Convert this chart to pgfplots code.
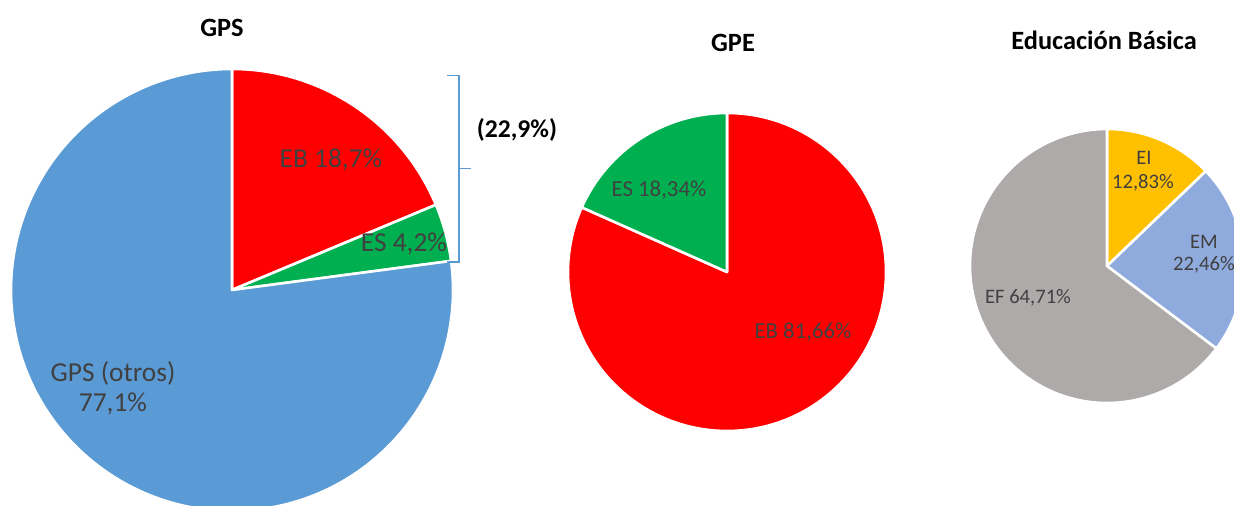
\documentclass[border=0pt]{standalone}
\usepackage{pgfplots}
\pgfplotsset{compat=1.18}
\usepackage{fontspec}
\setmainfont{Carlito}
\definecolor{cBlue}{HTML}{5B9BD5}
\definecolor{cRed}{HTML}{FF0000}
\definecolor{cGreen}{HTML}{00B050}
\definecolor{cYellow}{HTML}{FFC000}
\definecolor{cLBlue}{HTML}{8FAADC}
\definecolor{cGray}{HTML}{AEAAAA}
\definecolor{cText}{HTML}{404040}
% #1 cx, #2 cy, #3 r (axis units), #4 start angle, #5 percent, #6 colour
\newcommand{\pieslice}[6]{%
  \pgfplotsextra{%
    \pgfmathsetmacro{\aS}{#4}%
    \pgfmathsetmacro{\aE}{#4-3.6*#5}%
    \pgfmathsetmacro{\xS}{#1+#3*cos(\aS)}%
    \pgfmathsetmacro{\yS}{#2+#3*sin(\aS)}%
    \pgfmathsetmacro{\rr}{#3*0.5}%
    \filldraw[fill=#6, draw=white, line width=1.3pt, line join=round]
      (axis cs:#1,#2) -- (axis cs:\xS,\yS)
      arc[start angle=\aS, end angle=\aE, radius=\rr pt] -- cycle;
  }%
}
\begin{document}
\begin{tikzpicture}
\begin{axis}[
  scale only axis, width=617pt, height=253pt,
  xmin=0, xmax=1234, ymin=0, ymax=506,
  hide axis, clip=true,
]
% GPS: EB 18.7, ES 4.2, otros 77.1
\pieslice{232}{216}{221}{90}{18.7}{cRed}
\pieslice{232}{216}{221}{90-3.6*18.7}{4.2}{cGreen}
\pieslice{232}{216}{221}{90-3.6*22.9}{77.1}{cBlue}
% GPE: EB 81.66, ES 18.34
\pieslice{727}{234}{159}{90}{81.66}{cRed}
\pieslice{727}{234}{159}{90-3.6*81.66}{18.34}{cGreen}
% Educacion Basica: EI 12.83, EM 22.46, EF 64.71
\pieslice{1107}{240}{137}{90}{12.83}{cYellow}
\pieslice{1107}{240}{137}{90-3.6*12.83}{22.46}{cLBlue}
\pieslice{1107}{240}{137}{90-3.6*35.29}{64.71}{cGray}

% bracket
\draw[cBlue, line width=0.75pt] (axis cs:447,430.3) -- (axis cs:459,430.3) -- (axis cs:459,244) -- (axis cs:447,244);
\draw[cBlue, line width=0.75pt] (axis cs:459,337.3) -- (axis cs:471,337.3);
\node[font=\fontsize{12.8}{15}\selectfont\bfseries] at (axis cs:517,376) {(22,9\%)};

% titles
\node[font=\fontsize{13.2}{15}\selectfont\bfseries] at (axis cs:222,478) {GPS};
\node[font=\fontsize{13.2}{15}\selectfont\bfseries] at (axis cs:733,463) {GPE};
\node[font=\fontsize{13.2}{15}\selectfont\bfseries] at (axis cs:1104,466) {Educación Básica};

% labels chart 1
\node[text=cText, font=\fontsize{13.7}{16}\selectfont] at (axis cs:331,346) {EB 18,7\%};
\node[text=cText, font=\fontsize{13.7}{16}\selectfont] at (axis cs:404,262) {ES 4,2\%};
\node[text=cText, font=\fontsize{13.7}{16}\selectfont] at (axis cs:113,133) {GPS (otros)};
\node[text=cText, font=\fontsize{13.7}{16}\selectfont] at (axis cs:113,102) {77,1\%};
% labels chart 2
\node[text=cText, font=\fontsize{11.4}{14}\selectfont] at (axis cs:659,316) {ES 18,34\%};
\node[text=cText, font=\fontsize{11.4}{14}\selectfont] at (axis cs:803,174) {EB 81,66\%};
% labels chart 3
\node[text=cText, font=\fontsize{10.3}{12}\selectfont] at (axis cs:1144,348) {EI};
\node[text=cText, font=\fontsize{10.3}{12}\selectfont] at (axis cs:1143,323) {12,83\%};
\node[text=cText, font=\fontsize{10.3}{12}\selectfont] at (axis cs:1204,264) {EM};
\node[text=cText, font=\fontsize{10.3}{12}\selectfont] at (axis cs:1204,241) {22,46\%};
\node[text=cText, font=\fontsize{10.3}{12}\selectfont] at (axis cs:1028,208) {EF 64,71\%};
\end{axis}
\pgfresetboundingbox
\path (0,0) rectangle (617pt,253pt);
\end{tikzpicture}
\end{document}
